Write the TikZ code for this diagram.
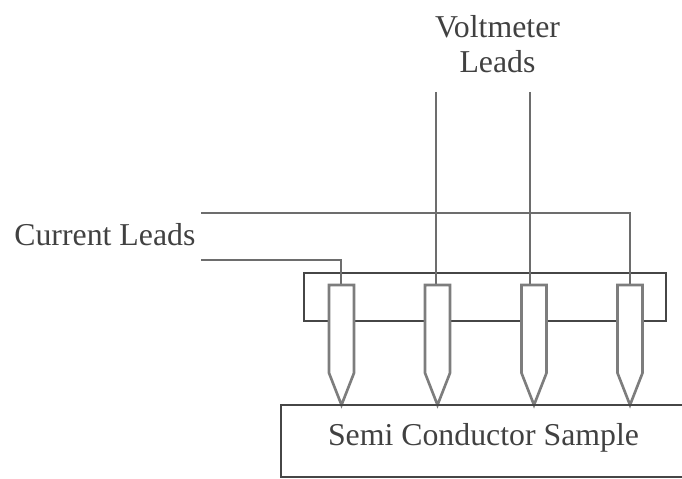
\documentclass[tikz,border=0pt]{standalone}
\usepackage{fontspec}
\usepackage{xcolor}
\usetikzlibrary{calc}
\setmainfont{Liberation Serif}
\definecolor{linecolor}{RGB}{70,70,70}
\definecolor{probecolor}{RGB}{125,125,125}
\definecolor{textcolor}{RGB}{65,65,65}
\tikzstyle{wire} = [draw=linecolor, line width=1.1pt, color=probecolor!70!linecolor]
\tikzstyle{outline} = [draw=linecolor, line width=0.75pt]
\tikzstyle{probe} = [draw=probecolor, line width=1.5pt, fill=white, line join=miter]
\tikzstyle{label} = [font=\fontsize{18.1}{22}\selectfont, text=textcolor, inner sep=0pt]

\begin{document}
\begin{tikzpicture}[x=0.02cm, y=-0.02cm]
    \useasboundingbox (0, 0) rectangle (682, 479);
    \clip (0, 0) rectangle (682, 479);

    % Labels
    \node[label] (volt_top) at (497.5, 27) {Voltmeter};
    \node[label] (volt_bottom) at (497.5, 62) {Leads};
    \node[label, anchor=west] (current) at (14, 235) {Current Leads};

    % Holder bar
    \draw[outline] (304, 273) rectangle (666, 321);

    % Probe tops and free wire ends
    \coordinate (top1) at (341, 285);
    \coordinate (top2) at (436, 285);
    \coordinate (top3) at (530, 285);
    \coordinate (top4) at (630, 285);
    \coordinate (volt1) at (436, 92);
    \coordinate (volt2) at (530, 92);
    \coordinate (cur1) at (201, 213);
    \coordinate (cur2) at (201, 260);

    % Leads
    \draw[wire] (volt1) -- (top2);
    \draw[wire] (volt2) -- (top3);
    \draw[wire] (cur1) -| (top4);
    \draw[wire] (cur2) -| (top1);

    % Probes
    \foreach \i/\x in {1/341.5, 2/437.5, 3/534, 4/630} {
        \draw[probe] (\x-12.5, 285) -- (\x+12.5, 285) -- (\x+12.5, 373) -- (\x, 405) -- (\x-12.5, 373) -- cycle;
    }

    % Sample
    \draw[outline] (690, 405) -- (281, 405) -- (281, 477) -- (690, 477);
    \node[label] (sample) at (483.5, 438) {Semi Conductor Sample};
\end{tikzpicture}
\end{document}
